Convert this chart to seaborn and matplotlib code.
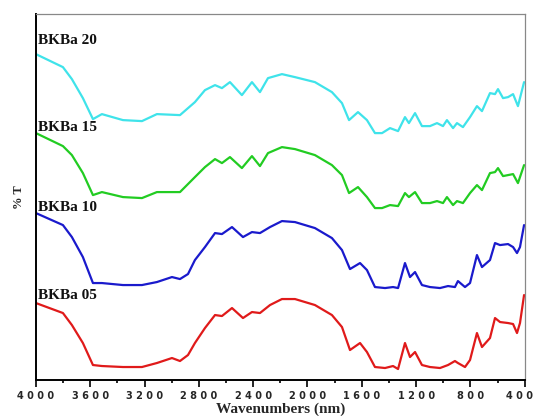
#FTIR spectra - BKBa samples (stacked %T)
import pandas as pd
import matplotlib.pyplot as plt
import matplotlib.transforms as mtransforms
import seaborn as sns
from matplotlib.ticker import MultipleLocator

# wavenumbers (cm-1 axis, labelled nm in the original)
wn_20 = [4000, 3801, 3735, 3654, 3580, 3514, 3359, 3219, 3109, 2939, 2829, 2755, 2681, 2630, 2571,
         2483, 2409, 2350, 2291, 2188, 2092, 1945, 1820, 1746, 1694, 1628, 1562, 1503, 1451, 1392,
         1333, 1282, 1253, 1208, 1157, 1098, 1046, 1002, 973, 928, 899, 855, 803, 752, 715,
         656, 619, 597, 560, 523, 486, 450, 405]
t_20 = [326, 313, 301, 282, 261, 266, 260, 259, 266, 265, 278, 290, 295, 292, 298,
        285, 298, 288, 302, 306, 303, 298, 288, 277, 260, 268, 260, 247, 247, 252,
        249, 263, 257, 267, 254, 254, 257, 254, 260, 252, 257, 253, 263, 274, 269,
        287, 286, 291, 282, 283, 286, 274, 298]

wn_15 = wn_20
t_15 = [247, 234, 225, 207, 185, 188, 183, 182, 188, 188, 203, 213, 221, 217, 223,
        212, 224, 214, 227, 233, 231, 225, 215, 205, 187, 193, 183, 172, 172, 175,
        174, 187, 183, 188, 177, 177, 179, 177, 183, 175, 179, 177, 187, 195, 190,
        207, 208, 212, 204, 205, 206, 197, 215]

wn_10 = [4000, 3801, 3735, 3654, 3580, 3514, 3359, 3219, 3109, 2998, 2939, 2880, 2829, 2755, 2681,
         2630, 2556, 2475, 2409, 2350, 2276, 2188, 2092, 1945, 1820, 1746, 1687, 1613, 1562, 1503,
         1429, 1370, 1333, 1282, 1245, 1208, 1157, 1098, 1024, 965, 914, 892, 840, 803, 752,
         715, 656, 619, 582, 523, 486, 457, 435, 405]
t_10 = [167, 155, 143, 123, 97, 97, 95, 95, 98, 103, 101, 106, 120, 133, 147,
        146, 153, 143, 148, 147, 153, 159, 158, 152, 142, 130, 111, 117, 110, 93,
        92, 93, 92, 117, 103, 108, 95, 93, 92, 94, 93, 99, 93, 97, 125,
        113, 120, 137, 135, 136, 133, 127, 133, 155]

wn_05 = wn_10
t_05 = [77, 67, 55, 37, 15, 14, 13, 13, 17, 22, 19, 25, 37, 52, 65,
        64, 72, 62, 68, 67, 75, 81, 81, 75, 65, 53, 30, 37, 28, 13,
        12, 14, 11, 37, 23, 28, 15, 13, 12, 15, 19, 17, 13, 20, 47,
        33, 42, 62, 58, 57, 56, 47, 57, 85]

samples = ['BKBa 20', 'BKBa 15', 'BKBa 10', 'BKBa 05']
colors = ['#3fe3ea', '#22cc22', '#1a1acc', '#e01a1a']
label_y = [340, 253, 173, 85]
tick_vals = [4000, 3600, 3200, 2800, 2400, 2000, 1600, 1200, 800, 400]

df = pd.concat([
    pd.DataFrame({'wn': w, 'T': t, 'sample': s})
    for w, t, s in [(wn_20, t_20, samples[0]), (wn_15, t_15, samples[1]),
                    (wn_10, t_10, samples[2]), (wn_05, t_05, samples[3])]
])

sns.set_style('white')
fig = plt.figure(figsize=(5.36, 4.16), dpi=100)
ax = fig.add_axes([0.067, 0.0865, 0.912, 0.8795])

for s, c in zip(samples, colors):
    sns.lineplot(data=df[df['sample'] == s], x='wn', y='T', color=c, lw=1.6,
                 sort=False, ax=ax, legend=False)

for s, y in zip(samples, label_y):
    ax.text(3985, y, s, fontsize=11, fontweight='bold', family='Liberation Serif',
            va='center', ha='left', color='#111111')

ax.set_xlim(4000, 400)
ax.set_ylim(0, 366)
ax.set_xticks(tick_vals)
ax.set_xticklabels([' '.join(str(v)) for v in tick_vals],
                   fontsize=7, fontweight='bold', family='DejaVu Sans')
ax.xaxis.set_minor_locator(MultipleLocator(200))
ax.set_yticks([])
ax.tick_params(axis='x', which='major', direction='out', length=5, width=1.2, pad=3,
               bottom=True, color='black')
ax.tick_params(axis='x', which='minor', direction='out', length=2, width=1.2,
               bottom=True, color='black')

for side in ['left', 'bottom']:
    ax.spines[side].set_color('black')
    ax.spines[side].set_linewidth(1.4)
for side in ['top', 'right']:
    ax.spines[side].set_color('#888888')
    ax.spines[side].set_linewidth(0.9)

ax.set_xlabel('Wavenumbers (nm)', fontsize=11, fontweight='bold', family='Liberation Serif',
              labelpad=1)
ax.set_ylabel('% T', fontsize=9, fontweight='bold', family='Liberation Serif', labelpad=8)

# the 400 label sits a little left of its tick in the original
fig.canvas.draw()
for t in ax.xaxis.get_major_ticks():
    if abs(t.get_loc() - 400) < 1:
        t.label1.set_transform(t.label1.get_transform() +
                               mtransforms.ScaledTranslation(-0.05, 0, fig.dpi_scale_trans))

fig.savefig('out.png', dpi=100)
